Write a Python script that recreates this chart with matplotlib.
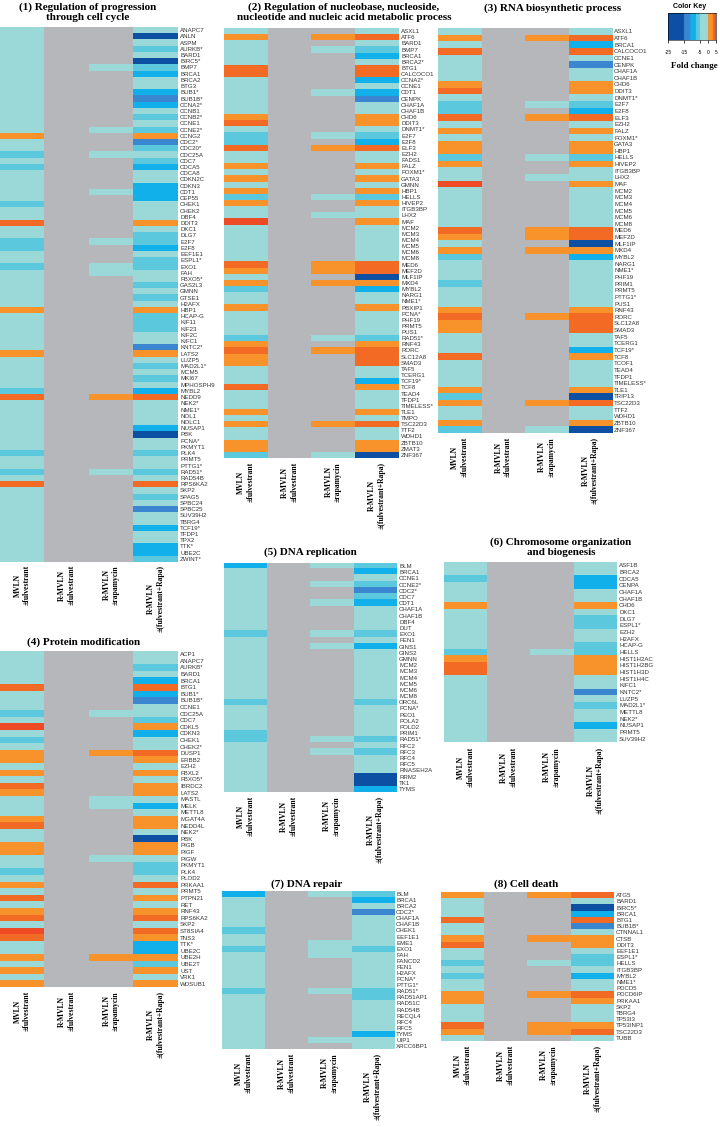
import numpy as np
import matplotlib
matplotlib.use('Agg')
import matplotlib.pyplot as plt
from matplotlib.colors import ListedColormap, BoundaryNorm

nan = np.nan

columns = ['MVLN\n±fulvestrant', 'R-MVLN\n±fulvestrant', 'R-MVLN\n±rapamycin',
           'R-MVLN\n±(fulvestrant+Rapa)']

# ---------------- Panel 1 ----------------
genes1 = ['ANAPC7', 'ANLN', 'ASPM', 'AURKB*', 'BARD1', 'BIRC5*', 'BMP7', 'BRCA1', 'BRCA2', 'BTG3',
          'BUB1*', 'BUB1B*', 'CCNA2*', 'CCNB1', 'CCNB2*', 'CCNE1', 'CCNE2*', 'CCNG2', 'CDC2*', 'CDC20*',
          'CDC25A', 'CDC7', 'CDCA5', 'CDCA8', 'CDKN2C', 'CDKN3', 'CDT1', 'CEP55', 'CHEK1', 'CHEK2',
          'DBF4', 'DDIT3', 'DKC1', 'DLG7', 'E2F7', 'E2F8', 'EEF1E1', 'ESPL1*', 'EXO1', 'FAH',
          'FBXO5*', 'GAS2L3', 'GMNN', 'GTSE1', 'H2AFX', 'HBP1', 'HCAP-G', 'KIF11', 'KIF23', 'KIF2C',
          'KIFC1', 'KNTC2*', 'LATS2', 'LUZP5', 'MAD2L1*', 'MCM5', 'MKI67', 'MPHOSPH9', 'MYBL2', 'NEDD9',
          'NEK2*', 'NME1*', 'NOL1', 'NOLC1', 'NUSAP1', 'PBK', 'PCNA*', 'PKMYT1', 'PLK4', 'PRMT5',
          'PTTG1*', 'RAD51*', 'RAD54B', 'RPS6KA2', 'SKP2', 'SPAG5', 'SPBC24', 'SPBC25', 'SUV39H2', 'TBRG4',
          'TCF19*', 'TFDP1', 'TPX2', 'TTK*', 'UBE2C', 'ZWINT*']
mvln1 = [-2, -2, -2, -2, -2, -2, -2, -2, -2, -2,
         -2, -2, -2, -2, -2, -2, -2, 1.8, -2, -2,
         -6, -2, -6, -2, -2, -2, -2, -2, -6, -2,
         -2, 3.5, -2, -2, -6, -6, -2, -2, -6, -2,
         -2, -2, -2, -2, -2, 1.8, -2, -2, -2, -2,
         -2, -2, 1.8, -2, -2, -2, -2, -2, -6, 3.5,
         -2, -2, -2, -2, -2, -2, -2, -2, -6, -2,
         -2, -6, -2, 3.5, -2, -2, -2, -2, -2, -2,
         -2, -2, -2, -2, -2, -2]
rfulv1 = [nan] * len(genes1)
rapa1 = [nan, nan, nan, nan, nan, nan, -2, nan, nan, nan,
         nan, nan, nan, nan, nan, nan, -2, nan, nan, nan,
         -2, nan, nan, nan, nan, nan, -2, nan, nan, nan,
         nan, nan, nan, nan, -2, nan, nan, nan, -2, -2,
         nan, nan, nan, nan, nan, nan, nan, nan, nan, nan,
         nan, nan, nan, nan, nan, nan, nan, nan, nan, 1.8,
         nan, nan, nan, nan, nan, nan, nan, nan, nan, nan,
         nan, -2, nan, nan, nan, nan, nan, nan, nan, nan,
         nan, nan, nan, nan, nan, nan]
combo1 = [-2, -20, -2, -6, -2, -20, -6, -9, -2, -2,
          -9, -13, -9, -2, -6, -2, -6, 1.8, -13, -6,
          -2, -6, -9, -2, -2, -9, -9, -9, -2, -2,
          -2, 1.8, -2, -6, -6, -9, -2, -6, -6, -2,
          -2, -6, -2, -6, -2, 1.8, -6, -6, -6, -2,
          -2, -13, 1.8, -2, -6, -2, -6, -2, -9, 3.5,
          -2, -2, -2, -2, -9, -20, -2, -2, -6, -2,
          -2, -6, -2, 3.5, -2, -6, -2, -13, -2, -2,
          -9, -2, -2, -9, -9, -6]

# ---------------- Panel 2 ----------------
genes2 = ['ASXL1', 'ATF6', 'BARD1', 'BMP7', 'BRCA1', 'BRCA2*', 'BTG1', 'CALCOCO1', 'CCNA2*', 'CCNE1',
          'CDT1', 'CENPK', 'CHAF1A', 'CHAF1B', 'CHD6', 'DDIT3', 'DNMT1*', 'E2F7', 'E2F8', 'ELF3',
          'EZH2', 'FADS1', 'FALZ', 'FOXM1*', 'GATA3', 'GMNN', 'HBP1', 'HELLS', 'HIVEP2', 'ITGB3BP',
          'LHX2', 'MAF', 'MCM2', 'MCM3', 'MCM4', 'MCM5', 'MCM6', 'MCM8', 'MED6', 'MEF2D',
          'MLF1IP', 'MXD4', 'MYBL2', 'NARG1', 'NME1*', 'PBXIP1', 'PCNA*', 'PHF19', 'PRMT5', 'PUS1',
          'RAD51*', 'RNF43', 'RORC', 'SLC12A8', 'SMAD3', 'TAF5', 'TCERG1', 'TCF19*', 'TCF8', 'TEAD4',
          'TFDP1', 'TIMELESS*', 'TLE1', 'TMPO', 'TSC22D3', 'TTF2', 'WDHD1', 'ZBTB10', 'ZMAT3', 'ZNF367']
mvln2 = [-2, 1.8, -2, -2, -2, -2, 3.5, 3.5, -2, -2,
         -2, -2, -2, -2, 1.8, 3.5, -2, -6, -6, 3.5,
         -2, -2, 1.8, -2, 1.8, -2, 1.8, -6, 1.8, -2,
         -2, 4.6, -2, -2, -2, -2, -2, -2, 3.5, 1.8,
         -2, 1.8, -6, -2, -2, 1.8, -2, -2, -2, -2,
         -6, 1.8, 3.5, 1.8, 1.8, -2, -2, -2, 3.5, -2,
         -2, -2, 1.8, -2, 1.8, -2, -2, 1.8, 1.8, -6]
rfulv2 = [nan] * len(genes2)
rapa2 = [nan, 1.8, nan, -2, nan, nan, nan, nan, nan, nan,
         -2, nan, nan, nan, nan, nan, nan, -2, nan, 1.8,
         nan, nan, nan, nan, nan, nan, nan, -2, nan, nan,
         -2, nan, nan, nan, nan, nan, nan, nan, 1.8, 1.8,
         nan, 1.8, nan, nan, nan, nan, nan, nan, nan, nan,
         -2, nan, 1.8, nan, nan, nan, nan, nan, nan, nan,
         nan, nan, nan, nan, 1.8, nan, nan, nan, nan, -2]
combo2 = [-2, 3.5, -2, -6, -9, -2, 3.5, 3.5, -9, -2,
          -9, -13, -2, -2, 1.8, 1.8, -2, -6, -9, 3.5,
          -2, -2, 1.8, -2, 1.8, -2, 1.8, -6, 1.8, -2,
          -2, 1.8, -2, -2, -2, -2, -2, -2, 3.5, 3.5,
          -20, 1.8, -9, -2, -2, 1.8, -2, -2, -2, -2,
          -6, 1.8, 3.5, 3.5, 3.5, -2, -2, -9, 1.8, -2,
          -2, -2, 1.8, -2, 3.5, -2, -2, 1.8, 1.8, -20]

# ---------------- Panel 3 ----------------
genes3 = ['ASXL1', 'ATF6', 'BRCA1', 'CALCOCO1', 'CCNE1', 'CENPK', 'CHAF1A', 'CHAF1B', 'CHD6', 'DDIT3',
          'DNMT1*', 'E2F7', 'E2F8', 'ELF3', 'EZH2', 'FALZ', 'FOXM1*', 'GATA3', 'HBP1', 'HELLS',
          'HIVEP2', 'ITGB3BP', 'LHX2', 'MAF', 'MCM2', 'MCM3', 'MCM4', 'MCM5', 'MCM6', 'MCM8',
          'MED6', 'MEF2D', 'MLF1IP', 'MXD4', 'MYBL2', 'NARG1', 'NME1*', 'PHF19', 'PRIM1', 'PRMT5',
          'PTTG1*', 'PUS1', 'RNF43', 'RORC', 'SLC12A8', 'SMAD3', 'TAF5', 'TCERG1', 'TCF19*', 'TCF8',
          'TCOF1', 'TEAD4', 'TFDP1', 'TIMELESS*', 'TLE1', 'TRIP13', 'TSC22D3', 'TTF2', 'WDHD1', 'ZBTB10',
          'ZNF367']
mvln3 = [-2, 1.8, -2, 3.5, -2, -2, -2, -2, 1.8, 3.5,
         -2, -6, -6, 3.5, -2, 1.8, -2, 1.8, 1.8, -6,
         1.8, -2, -2, 4.6, -2, -2, -2, -2, -2, -2,
         3.5, 1.8, -2, 1.8, -6, -2, -2, -2, -6, -2,
         -2, -2, 1.8, 3.5, 1.8, 1.8, -2, -2, -2, 3.5,
         -2, -2, -2, -2, 1.8, -6, 1.8, -2, -2, 1.8,
         -6]
rfulv3 = [nan] * len(genes3)
rapa3 = [nan, 1.8, nan, nan, nan, nan, nan, nan, nan, nan,
         nan, -2, nan, 1.8, nan, nan, nan, nan, nan, -2,
         nan, nan, -2, nan, nan, nan, nan, nan, nan, nan,
         1.8, 1.8, nan, 1.8, nan, nan, nan, nan, nan, nan,
         nan, nan, nan, 1.8, nan, nan, nan, nan, nan, nan,
         nan, nan, nan, nan, nan, nan, 1.8, nan, nan, nan,
         -2]
combo3 = [-2, 3.5, -9, 3.5, -2, -13, -2, -2, 1.8, 1.8,
          -2, -6, -9, 3.5, -2, 1.8, -2, 1.8, 1.8, -6,
          1.8, -2, -2, 1.8, -2, -2, -2, -2, -2, -2,
          3.5, 3.5, -20, 1.8, -9, -2, -2, -2, -2, -2,
          -2, -2, 1.8, 3.5, 3.5, 3.5, -2, -2, -9, 1.8,
          -2, -2, -2, -2, 1.8, -20, 3.5, -2, -2, 1.8,
          -20]

# ---------------- Panel 4 ----------------
genes4 = ['ACP1', 'ANAPC7', 'AURKB*', 'BARD1', 'BRCA1', 'BTG1', 'BUB1*', 'BUB1B*', 'CCNE1', 'CDC25A',
          'CDC7', 'CDKL5', 'CDKN3', 'CHEK1', 'CHEK2*', 'DUSP1', 'ERBB2', 'EZH2', 'FBXL2', 'FBXO5*',
          'IBRDC2', 'LATS2', 'MASTL', 'MELK', 'METTL8', 'MGAT4A', 'NEDD4L', 'NEK2*', 'PBK', 'PIGB',
          'PIGF', 'PIGW', 'PKMYT1', 'PLK4', 'PLOD2', 'PRKAA1', 'PRMT5', 'PTPN21', 'RET', 'RNF43',
          'RPS6KA2', 'SKP2', 'ST8SIA4', 'TNS3', 'TTK*', 'UBE2C', 'UBE2H', 'UBE2T', 'UST', 'VRK1',
          'WDSUB1']
mvln4 = [-2, -2, -2, -2, -2, 3.5, -2, -2, -2, -6,
         -2, 4.6, -2, -6, -2, 1.8, 1.8, -2, 1.8, -2,
         3.5, 1.8, -2, -2, -2, 1.8, 3.5, -2, -2, 1.8,
         1.8, -2, -2, -6, -2, 1.8, -2, 3.5, -2, 1.8,
         3.5, -2, 4.6, 3.5, -2, -2, 1.8, -2, 1.8, -2,
         1.8]
rfulv4 = [nan] * len(genes4)
rapa4 = [nan, nan, nan, nan, nan, nan, nan, nan, nan, -2,
         nan, nan, nan, nan, nan, 1.8, nan, nan, nan, nan,
         nan, nan, -2, -2, nan, nan, nan, nan, nan, nan,
         nan, -2, nan, nan, nan, nan, nan, nan, nan, nan,
         nan, nan, nan, nan, nan, nan, 1.8, nan, nan, nan,
         nan]
combo4 = [-2, -2, -6, -2, -9, 3.5, -9, -13, -2, -2,
          -6, 1.8, -9, -2, -2, 3.5, 1.8, -2, 1.8, -2,
          1.8, 1.8, -2, -9, -2, 1.8, 1.8, -2, -20, 1.8,
          1.8, -2, -6, -6, -2, 3.5, -2, 1.8, -2, 1.8,
          3.5, -2, 3.5, 1.8, -9, -9, 1.8, -6, 1.8, -2,
          1.8]

# ---------------- Panel 5 ----------------
genes5 = ['BLM', 'BRCA1', 'CCNE1', 'CCNE2*', 'CDC2*', 'CDC7', 'CDT1', 'CHAF1A', 'CHAF1B', 'DBF4',
          'DUT', 'EXO1', 'FEN1', 'GINS1', 'GINS2', 'GMNN', 'MCM2', 'MCM3', 'MCM4', 'MCM5',
          'MCM6', 'MCM8', 'ORC6L', 'PCNA*', 'PEO1', 'POLA2', 'POLD2', 'PRIM1', 'RAD51*', 'RFC2',
          'RFC3', 'RFC4', 'RFC5', 'RNASEH2A', 'RRM2', 'TK1', 'TYMS']
mvln5 = [-9, -2, -2, -2, -2, -2, -2, -2, -2, -2,
         -2, -6, -2, -2, -2, -2, -2, -2, -2, -2,
         -2, -2, -6, -2, -2, -2, -2, -6, -6, -2,
         -2, -2, -2, -2, -2, -2, -2]
rfulv5 = [nan] * len(genes5)
rapa5 = [-2, nan, nan, -2, nan, nan, -2, nan, nan, nan,
         nan, -2, nan, -2, nan, nan, nan, nan, nan, nan,
         nan, nan, nan, nan, nan, nan, nan, nan, -2, nan,
         -2, nan, nan, nan, nan, nan, nan]
combo5 = [-6, -9, -2, -6, -13, -6, -9, -2, -2, -2,
          -2, -6, -2, -9, -2, -2, -2, -2, -2, -2,
          -2, -2, -6, -2, -2, -2, -2, -2, -6, -2,
          -6, -2, -2, -2, -20, -20, -9]

# ---------------- Panel 6 ----------------
genes6 = ['ASF1B', 'BRCA2', 'CDCA5', 'CENPA', 'CHAF1A', 'CHAF1B', 'CHD6', 'DKC1', 'DLG7', 'ESPL1*',
          'EZH2', 'H2AFX', 'HCAP-G', 'HELLS', 'HIST1H2AC', 'HIST1H2BG', 'HIST1H3D', 'HIST1H4C', 'KIFC1',
          'KNTC2*', 'LUZP5', 'MAD2L1*', 'METTL8', 'NEK2*', 'NUSAP1', 'PRMT5', 'SUV39H2']
mvln6 = [-2, -2, -6, -2, -2, -2, 1.8, -2, -2, -2,
         -2, -2, -2, -6, 1.8, 3.5, 3.5, -2, -2,
         -2, -2, -2, -2, -2, -2, -2, -2]
rfulv6 = [nan] * len(genes6)
rapa6 = [nan, nan, nan, nan, nan, nan, nan, nan, nan, nan,
         nan, nan, nan, -2, nan, nan, nan, nan, nan,
         nan, nan, nan, nan, nan, nan, nan, nan]
combo6 = [-2, -2, -9, -9, -2, -2, 1.8, -2, -6, -6,
          -2, -2, -6, -6, 1.8, 1.8, 1.8, -2, -2,
          -13, -2, -6, -2, -2, -9, -2, -2]

# ---------------- Panel 7 ----------------
genes7 = ['BLM', 'BRCA1', 'BRCA2', 'CDC2*', 'CHAF1A', 'CHAF1B', 'CHEK1', 'EEF1E1', 'EME1', 'EXO1',
          'FAH', 'FANCD2', 'FEN1', 'H2AFX', 'PCNA*', 'PTTG1*', 'RAD51*', 'RAD51AP1', 'RAD51C', 'RAD54B',
          'RECQL4', 'RFC4', 'RFC5', 'TYMS', 'UIP1', 'XRCC6BP1']
mvln7 = [-9, -2, -2, -2, -2, -2, -6, -2, -2, -6,
         -2, -2, -2, -2, -2, -2, -6, -2, -2, -2,
         -2, -2, -2, -2, -2, -2]
rfulv7 = [nan] * len(genes7)
rapa7 = [-2, nan, nan, nan, nan, nan, nan, nan, -2, -2,
         -2, nan, nan, nan, nan, nan, -2, nan, nan, nan,
         nan, nan, nan, nan, -2, nan]
combo7 = [-6, -9, -2, -13, -2, -2, -2, -2, -2, -6,
          -2, -2, -2, -2, -2, -2, -6, -6, -2, -2,
          -2, -2, -2, -9, -2, -2]

# ---------------- Panel 8 ----------------
genes8 = ['ATG5', 'BARD1', 'BIRC5*', 'BRCA1', 'BTG1', 'BUB1B*', 'CTNNAL1', 'CTSB', 'DDIT3', 'EEF1E1',
          'ESPL1*', 'HELLS', 'ITGB3BP', 'MYBL2', 'NME1*', 'PDCD5', 'PDCD6IP', 'PRKAA1', 'SKP2', 'TBRG4',
          'TP53I3', 'TP53INP1', 'TSC22D3', 'TUBB']
mvln8 = [1.8, -2, -2, -2, 3.5, -2, -2, 1.8, 3.5, -2,
         -2, -6, -2, -6, -2, -2, 1.8, 1.8, -2, -2,
         -2, 3.5, 1.8, -2]
rfulv8 = [nan] * len(genes8)
rapa8 = [1.8, nan, nan, nan, nan, nan, nan, 1.8, nan, nan,
         nan, -2, nan, nan, nan, nan, 1.8, nan, nan, nan,
         nan, 1.8, 1.8, nan]
combo8 = [3.5, -2, -20, -9, 3.5, -13, -2, 1.8, 1.8, -2,
          -6, -6, -2, -9, -2, -2, 3.5, 1.8, -2, -2,
          -2, 1.8, 3.5, -2]

titles = ['(1) Regulation of progression\nthrough cell cycle',
          '(2) Regulation of nucleobase, nucleoside,\nnucleotide and nucleic acid metabolic process',
          '(3) RNA biosynthetic process',
          '(4) Protein modification',
          '(5) DNA replication',
          '(6) Chromosome organization\nand biogenesis',
          '(7) DNA repair',
          '(8) Cell death']

key_ticks = [-25, -15, -5, 0, 5]

# ---------------- styling ----------------
W, H = 720, 1127
fig = plt.figure(figsize=(W / 100, H / 100), dpi=100)

key_colors = ['#0d4fa3', '#3a86d0', '#12b0ea', '#5bc8de', '#9bd8d8', '#f7932a', '#f26a24', '#ee4a25']
bounds = [-25, -15, -11, -7.5, -5, 0, 3, 4.2, 5]
cmap = ListedColormap(key_colors)
cmap.set_bad('#b5b7ba')
norm = BoundaryNorm(bounds, cmap.N)

serif = 'Liberation Serif'
sans = 'Liberation Sans'

panels = [
    (genes1, [mvln1, rfulv1, rapa1, combo1], (0, 178, 27, 562), (88, 12), 565),
    (genes2, [mvln2, rfulv2, rapa2, combo2], (224, 399, 28, 458), (344, 12), 462),
    (genes3, [mvln3, rfulv3, rapa3, combo3], (438, 612, 28, 433), (553, 8), 437),
    (genes4, [mvln4, rfulv4, rapa4, combo4], (0, 178, 651, 987), (84, 642), 991),
    (genes5, [mvln5, rfulv5, rapa5, combo5], (224, 397, 563, 792), (310, 552), 796),
    (genes6, [mvln6, rfulv6, rapa6, combo6], (444, 617, 562, 742), (561, 547), 747),
    (genes7, [mvln7, rfulv7, rapa7, combo7], (222, 394, 891, 1049), (307, 884), 1053),
    (genes8, [mvln8, rfulv8, rapa8, combo8], (441, 614, 892, 1041), (526, 884), 1045),
]

for (genes, cols, (x0, x1, y0, y1), (tx, ty), lab_y), title in zip(panels, titles):
    data = np.array(cols, dtype=float).T
    ax = fig.add_axes([x0 / W, 1 - y1 / H, (x1 - x0) / W, (y1 - y0) / H])
    ax.imshow(np.ma.masked_invalid(data), cmap=cmap, norm=norm, aspect='auto',
              interpolation='nearest')
    ax.set_xticks([])
    ax.yaxis.tick_right()
    ax.set_yticks(range(len(genes)))
    ax.set_yticklabels(genes, fontsize=4.4, family=sans, color='#333333')
    ax.tick_params(axis='y', length=0, pad=1.5)
    for s in ax.spines.values():
        s.set_visible(False)
    fig.text(tx / W, 1 - ty / H, title, ha='center', va='center', fontsize=8,
             family=serif, weight='bold', linespacing=1.1)
    cw = (x1 - x0) / 4
    for i, lab in enumerate(columns):
        cx = x0 + cw * (i + 0.5)
        fig.text(cx / W, 1 - lab_y / H, lab, rotation=90, ha='center', va='top',
                 multialignment='center', fontsize=5.5, family=serif, weight='bold',
                 linespacing=1.25)

# ---------------- color key ----------------
kax = fig.add_axes([668 / W, 1 - 40 / H, 48 / W, 27 / H])
grad = np.linspace(-25, 5, 300).reshape(1, -1)
kax.imshow(grad, cmap=cmap, norm=norm, aspect='auto', extent=[-25, 5, 0, 1])
kax.set_yticks([])
kax.set_xticks(key_ticks)
kax.set_xticklabels([str(t) for t in key_ticks], fontsize=3.5, family=sans)
kax.tick_params(axis='x', length=2.5, width=0.5, pad=5)
for s in kax.spines.values():
    s.set_linewidth(0.4)
fig.text(690 / W, 1 - 6 / H, 'Color Key', ha='center', va='center', fontsize=5,
         family=sans, weight='bold')
fig.text(694 / W, 1 - 66 / H, 'Fold change', ha='center', va='center', fontsize=6.5,
         family=serif, weight='bold')

fig.savefig('out.png', dpi=100)
